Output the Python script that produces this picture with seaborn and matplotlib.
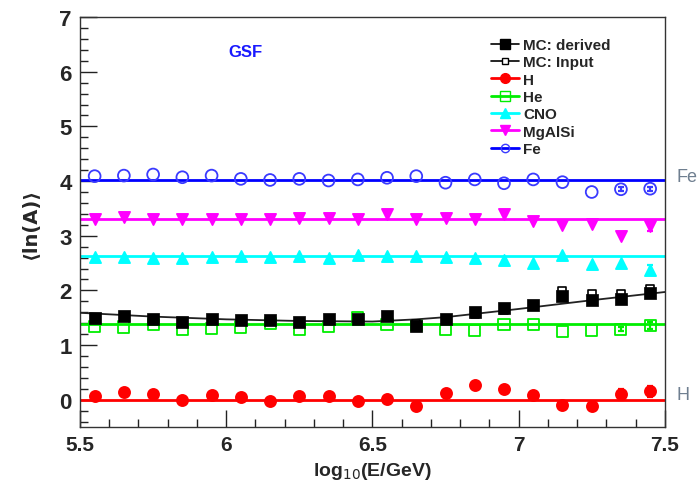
import numpy as np
import pandas as pd
import matplotlib
matplotlib.use("Agg")
import matplotlib.pyplot as plt
from matplotlib.lines import Line2D
from matplotlib.ticker import MultipleLocator, FuncFormatter
import seaborn as sns

# log10(E/GeV) bin centres
energy = [5.55, 5.65, 5.75, 5.85, 5.95, 6.05, 6.15, 6.25, 6.35, 6.45,
          6.55, 6.65, 6.75, 6.85, 6.95, 7.05, 7.15, 7.25, 7.35, 7.45]

# <ln A> reconstructed for pure primaries
lnA_H = [0.06, 0.14, 0.11, 0.00, 0.08, 0.05, -0.02, 0.06, 0.07, -0.02,
         0.02, -0.12, 0.12, 0.27, 0.20, 0.08, -0.09, -0.11, 0.10, 0.15]
lnA_He = [1.34, 1.33, 1.37, 1.28, 1.31, 1.33, 1.40, 1.28, 1.34, 1.50,
          1.37, 1.35, 1.29, 1.27, 1.37, 1.37, 1.25, 1.27, 1.29, 1.36]
lnA_CNO = [2.61, 2.61, 2.60, 2.59, 2.61, 2.62, 2.61, 2.62, 2.59, 2.64,
           2.62, 2.62, 2.61, 2.59, 2.56, 2.51, 2.64, 2.49, 2.50, 2.38]
lnA_MgAlSi = [3.31, 3.35, 3.30, 3.30, 3.31, 3.30, 3.30, 3.33, 3.32, 3.31,
              3.39, 3.30, 3.33, 3.30, 3.39, 3.27, 3.19, 3.22, 2.99, 3.17]
lnA_Fe = [4.09, 4.10, 4.12, 4.07, 4.10, 4.04, 4.02, 4.04, 4.01, 4.03,
          4.06, 4.09, 3.97, 4.03, 3.96, 4.03, 3.98, 3.80, 3.85, 3.86]

# statistical uncertainties (zero where smaller than the marker)
err_H = [0.0] * 16 + [0.04, 0.07, 0.10, 0.10]
err_He = [0.0] * 17 + [0.0, 0.04, 0.07]
err_CNO = [0.0] * 18 + [0.0, 0.08]
err_MgAlSi = [0.0] * 18 + [0.0, 0.08]
err_Fe = [0.0] * 17 + [0.0, 0.04, 0.04]

# mixed-composition Monte Carlo
lnA_mc_derived = [1.50, 1.53, 1.48, 1.42, 1.47, 1.45, 1.45, 1.42, 1.47, 1.48,
                  1.53, 1.34, 1.48, 1.60, 1.68, 1.74, 1.89, 1.83, 1.84, 1.95]
err_mc_derived = [0.0] * 16 + [0.04, 0.04, 0.04, 0.05]
lnA_mc_input = [1.50, 1.52, 1.47, 1.42, 1.46, 1.45, 1.44, 1.41, 1.46, 1.47,
                1.51, 1.38, 1.46, 1.56, 1.64, 1.74, 1.98, 1.94, 1.93, 2.03]

# smooth input-composition curve
curve_x = [5.5, 5.75, 6.0, 6.25, 6.5, 6.65, 6.75, 6.85, 7.0, 7.25, 7.5]
curve_y = [1.59, 1.52, 1.47, 1.44, 1.43, 1.47, 1.51, 1.57, 1.66, 1.82, 1.97]

# nominal <ln A> of each primary
nominal = {"H": 0.0, "He": 1.39, "CNO": 2.62, "MgAlSi": 3.30, "Fe": 4.02}

sns.set_style("ticks")
plt.rcParams["font.family"] = ["Liberation Sans", "DejaVu Sans"]

fig = plt.figure(figsize=(6.97, 4.89), dpi=100)
ax = fig.add_axes([0.1148, 0.1247, 0.839, 0.8383])


def draw_errors(xs, ys, es, color, lw, cap):
    """Error bars only for bins whose uncertainty exceeds the marker."""
    sel = [i for i, e in enumerate(es) if e > 0]
    if sel:
        ax.errorbar([xs[i] for i in sel], [ys[i] for i in sel],
                    yerr=[es[i] for i in sel], fmt="none", ecolor=color,
                    elinewidth=lw, capsize=cap, capthick=lw, zorder=3)


series = [
    ("H", lnA_H, err_H, "#ff0000", "o", "#ff0000", 8),
    ("He", lnA_He, err_He, "#00ee00", "s", "none", 8),
    ("CNO", lnA_CNO, err_CNO, "#00ffff", "^", "#00ffff", 8),
    ("MgAlSi", lnA_MgAlSi, err_MgAlSi, "#ff00ff", "v", "#ff00ff", 8),
    ("Fe", lnA_Fe, err_Fe, "#3a3aff", "o", "none", 8.5),
]
line_colors = {"H": "#ff0000", "He": "#00ee00", "CNO": "#00ffff",
               "MgAlSi": "#ff00ff", "Fe": "#0000ff"}

for name, vals, errs, col, mk, fc, ms in series:
    ax.axhline(nominal[name], color=line_colors[name], lw=2.0, zorder=2)
    draw_errors(energy, vals, errs, col, 1.6, 2.5)
    df = pd.DataFrame({"E": energy, "lnA": vals})
    sns.scatterplot(data=df, x="E", y="lnA", ax=ax, marker=mk, s=ms ** 2,
                    facecolor=fc, edgecolor=col, linewidth=1.3, zorder=4,
                    legend=False)

# Monte Carlo curve and points
curve_df = pd.DataFrame({"E": curve_x, "lnA": curve_y})
sns.lineplot(data=curve_df, x="E", y="lnA", ax=ax, color="#222222",
             lw=1.3, zorder=5)
mc_in = pd.DataFrame({"E": energy, "lnA": lnA_mc_input})
sns.scatterplot(data=mc_in, x="E", y="lnA", ax=ax, marker="s", s=6 ** 2,
                facecolor="white", edgecolor="black", linewidth=1.2,
                zorder=6, legend=False)
draw_errors(energy, lnA_mc_derived, err_mc_derived, "black", 1.3, 0)
mc_der = pd.DataFrame({"E": energy, "lnA": lnA_mc_derived})
sns.scatterplot(data=mc_der, x="E", y="lnA", ax=ax, marker="s", s=8 ** 2,
                color="black", edgecolor="black", linewidth=0.5, zorder=7,
                legend=False)

ax.set_xlim(5.5, 7.5)
ax.set_ylim(-0.5, 7)
ax.xaxis.set_major_locator(MultipleLocator(0.5))
ax.xaxis.set_minor_locator(MultipleLocator(0.1))
ax.yaxis.set_major_locator(MultipleLocator(1))
ax.yaxis.set_minor_locator(MultipleLocator(0.2))
ax.tick_params(axis="both", which="both", direction="in", top=False,
               right=False, color="#222222")
ax.tick_params(axis="y", which="major", length=12, width=1.0,
               labelsize=16, pad=6)
ax.tick_params(axis="y", which="minor", length=6, width=1.0)
ax.tick_params(axis="x", which="major", length=12, width=1.0,
               labelsize=15, pad=6)
ax.tick_params(axis="x", which="minor", length=6, width=1.0)
ax.xaxis.set_major_formatter(FuncFormatter(lambda v, p: f"{v:g}"))
for lab in ax.get_xticklabels() + ax.get_yticklabels():
    lab.set_fontweight("bold")
for sp in ax.spines.values():
    sp.set_color("#333333")
    sp.set_linewidth(1.0)

ax.set_xlabel(r"log$_{10}$(E/GeV)", fontsize=14, fontweight="bold",
              labelpad=4)
ax.set_ylabel("⟨ln(A)⟩", fontsize=14, fontweight="bold", labelpad=14,
              family=["DejaVu Sans"])

ax.text(6.065, 6.37, "GSF", color="#1a1aff", fontsize=12,
        fontweight="bold", ha="center", va="center")
ax.text(1.02, (4.08 + 0.5) / 7.5, "Fe", transform=ax.transAxes,
        color="#6f7f90", fontsize=13, ha="left", va="center")
ax.text(1.02, (0.09 + 0.5) / 7.5, "H", transform=ax.transAxes,
        color="#6f7f90", fontsize=13, ha="left", va="center")

handles = [
    Line2D([], [], color="black", lw=1.2, marker="s", ms=7,
           mfc="black", mec="black"),
    Line2D([], [], color="black", lw=1.2, marker="s", ms=5,
           mfc="white", mec="black"),
    Line2D([], [], color="#ff0000", lw=2, marker="o", ms=7,
           mfc="#ff0000", mec="#ff0000"),
    Line2D([], [], color="#00ee00", lw=2, marker="s", ms=7,
           mfc="none", mec="#00ee00"),
    Line2D([], [], color="#00ffff", lw=2, marker="^", ms=7,
           mfc="#00ffff", mec="#00ffff"),
    Line2D([], [], color="#ff00ff", lw=2, marker="v", ms=7,
           mfc="#ff00ff", mec="#ff00ff"),
    Line2D([], [], color="#0000ff", lw=2, marker="o", ms=6,
           mfc="none", mec="#3a3aff"),
]
labels = ["MC: derived", "MC: Input", "H", "He", "CNO", "MgAlSi", "Fe"]
ax.legend(handles, labels, loc="upper left",
          bbox_to_anchor=(0.685, 0.975), frameon=False,
          prop={"weight": "bold", "size": 11}, handlelength=1.8,
          handletextpad=0.3, labelspacing=0.22, borderpad=0.2)

fig.savefig("out.png", dpi=100)
